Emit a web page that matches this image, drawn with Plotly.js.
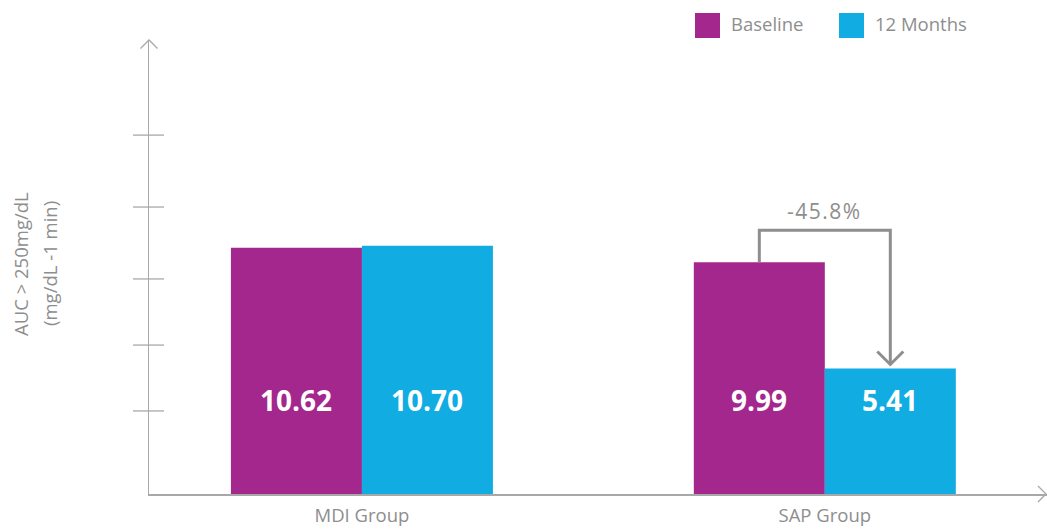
<!DOCTYPE html>
<html>
<head>
<meta charset="utf-8">
<script src="https://cdn.plot.ly/plotly-3.0.1.min.js"></script>
<style>html,body{margin:0;padding:0;background:#fff}#chart{width:1047px;height:529px}</style>
</head>
<body>
<div id="chart"></div>
<script>
// ---- data ----
const groups = ["MDI Group", "SAP Group"];
const seriesNames = ["Baseline", "12 Months"];
const baselineValues = [10.62, 9.99];
const monthValues = [10.70, 5.41];
const changeLabel = "-45.8%";
const yTitleLines = ["AUC > 250mg/dL", "(mg/dL -1 min)"];
const yTickVals = [3.58, 6.42, 9.27, 12.37, 15.47];

// ---- styling ----
const W = 1047, H = 529;
const M = {l: 149, r: 0, t: 40, b: 35};
const PW = W - M.l - M.r, PH = H - M.t - M.b;
const colors = ["#a4278d", "#10ace2"];
const gray = "#8e8e8e";
const axisGray = "#a8a8a8";
const FONT = "Open Sans, Noto Sans, sans-serif";
const yMax = 19.57;
const xRange = [-0.46, 1.48];
const pxPerY = PH / yMax;
const pxPerX = PW / (xRange[1] - xRange[0]);
const bargap = 0.434;
const half = (1 - bargap) / 4; // offset of each bar center from category center

const px2pX = p => (p - M.l) / PW;
const px2pY = p => 1 - (p - M.t) / PH;

const traces = [
  {type: "bar", name: seriesNames[0], x: [0, 1], y: baselineValues,
   marker: {color: colors[0]}, hoverinfo: "x+y"},
  {type: "bar", name: seriesNames[1], x: [0, 1], y: monthValues,
   marker: {color: colors[1]}, hoverinfo: "x+y"}
];

const shapes = [];
const annotations = [];

// crossing y ticks
yTickVals.forEach(v => shapes.push({type: "line", xref: "paper", yref: "y",
  x0: -16 / PW, x1: 15 / PW, y0: v, y1: v, line: {color: axisGray, width: 1.3}}));

// axis arrow heads
shapes.push({type: "path", xref: "paper", yref: "paper",
  path: `M ${px2pX(140.5)},${px2pY(48.5)} L ${px2pX(149)},${px2pY(40)} L ${px2pX(157.5)},${px2pY(48.5)}`,
  line: {color: axisGray, width: 1.3}});
shapes.push({type: "path", xref: "paper", yref: "paper",
  path: `M ${px2pX(1038)},${px2pY(486)} L ${px2pX(1046)},${px2pY(494)} L ${px2pX(1038)},${px2pY(502)}`,
  line: {color: axisGray, width: 1.3}});

// change bracket on SAP group
const xa = 1 - half, xb = 1 + half;
const bracketTop = baselineValues[1] + 32 / pxPerY;
const arrowTip = monthValues[1] + 4 / pxPerY;
shapes.push({type: "path", xref: "x", yref: "y",
  path: `M ${xa},${baselineValues[1]} L ${xa},${bracketTop} L ${xb},${bracketTop} L ${xb},${arrowTip}`,
  line: {color: gray, width: 3}});
const ax = 13 / pxPerX, ay = 13 / pxPerY;
shapes.push({type: "path", xref: "x", yref: "y",
  path: `M ${xb - ax},${arrowTip + ay} L ${xb},${arrowTip} L ${xb + ax},${arrowTip + ay}`,
  line: {color: gray, width: 3}});
annotations.push({xref: "x", yref: "y", x: 1, y: bracketTop + 19 / pxPerY,
  text: `<span style="letter-spacing:1.5px">${changeLabel}</span>`,
  showarrow: false, font: {family: FONT, size: 21, color: gray}, yanchor: "middle"});

// value labels
const labelY = 94 / pxPerY;
[baselineValues, monthValues].forEach((vals, si) => {
  vals.forEach((v, gi) => annotations.push({xref: "x", yref: "y",
    x: gi + (si === 0 ? -half : half), y: labelY, text: v.toFixed(2), showarrow: false,
    font: {family: FONT, size: 28, color: "#ffffff", weight: 700}, yanchor: "middle"}));
});

// y title lines
[20, 49].forEach((xp, i) => annotations.push({xref: "paper", yref: "paper",
  x: px2pX(xp), y: px2pY(264), text: yTitleLines[i], textangle: -90, showarrow: false,
  xanchor: "center", yanchor: "middle", font: {family: FONT, size: 18.5, color: gray}}));

// manual legend
[[695, 729], [839, 873]].forEach((pos, i) => {
  shapes.push({type: "rect", xref: "paper", yref: "paper",
    x0: px2pX(pos[0]), x1: px2pX(pos[0] + 25), y0: px2pY(38), y1: px2pY(13),
    fillcolor: colors[i], line: {width: 0}});
  annotations.push({xref: "paper", yref: "paper", x: px2pX(pos[1]), y: px2pY(24),
    text: seriesNames[i], showarrow: false, xanchor: "left", yanchor: "middle",
    font: {family: FONT, size: 18.5, color: gray}});
});

const layout = {
  width: W, height: H, margin: M,
  paper_bgcolor: "#fff", plot_bgcolor: "#fff",
  showlegend: false, barmode: "group", bargap: bargap, bargroupgap: 0,
  font: {family: FONT, color: gray},
  xaxis: {type: "linear", range: xRange, tickvals: [0, 1], ticktext: groups,
    showline: true, linecolor: axisGray, linewidth: 1.5, showgrid: false, zeroline: false,
    ticks: "", tickfont: {family: FONT, size: 18.5, color: gray}, ticklabelstandoff: 4},
  yaxis: {range: [0, yMax], showline: true, linecolor: axisGray, linewidth: 1.5,
    showgrid: false, zeroline: false, showticklabels: false, ticks: ""},
  shapes: shapes, annotations: annotations
};

Plotly.newPlot("chart", traces, layout, {displayModeBar: false, staticPlot: true});
</script>
</body>
</html>
